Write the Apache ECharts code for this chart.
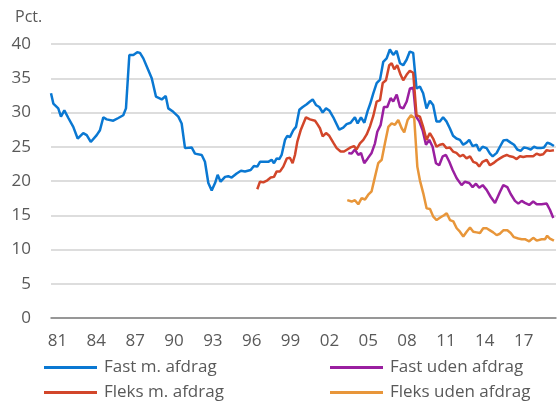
<!DOCTYPE html>
<html>
<head>
<meta charset="utf-8">
<script src="https://cdn.jsdelivr.net/npm/echarts@6/dist/echarts.min.js"></script>
<style>
  html, body { margin: 0; padding: 0; background: #fff; }
  #chart { width: 558px; height: 403px; }
</style>
</head>
<body>
<div id="chart"></div>
<script>
// year labels on the category axis (one per year, every third one shown)
var yearLabels = ["81","82","83","84","85","86","87","88","89","90","91","92","93",
  "94","95","96","97","98","99","00","01","02","03","04","05","06","07","08","09",
  "10","11","12","13","14","15","16","17","18","19"];

// Fast m. afdrag
var fastMYears = [1981.00,1981.18,1981.56,1981.77,1982.03,1982.34,1982.72,1983.06,1983.49,1983.76,
  1984.07,1984.53,1984.78,1985.04,1985.30,1985.81,1986.20,1986.58,1986.79,1987.05,1987.36,1987.66,
  1987.87,1988.13,1988.51,1988.78,1989.11,1989.55,1989.86,1990.06,1990.44,1990.83,1991.09,1991.35,
  1991.86,1992.12,1992.64,1992.89,1993.15,1993.41,1993.67,1993.87,1994.10,1994.44,1994.69,1994.95,
  1995.34,1995.67,1995.98,1996.42,1996.67,1996.93,1997.14,1997.52,1997.78,1998.04,1998.22,1998.43,
  1998.63,1998.81,1999.07,1999.25,1999.45,1999.71,1999.92,2000.18,2000.44,2000.75,2001.00,2001.21,
  2001.46,2001.72,2001.98,2002.24,2002.49,2002.80,2003.26,2003.57,2003.83,2004.14,2004.47,2004.68,
  2004.94,2005.20,2005.45,2005.64,2005.89,2006.15,2006.41,2006.66,2006.92,2007.17,2007.43,2007.69,
  2007.95,2008.20,2008.46,2008.71,2008.97,2009.23,2009.49,2009.74,2010.00,2010.26,2010.51,2010.77,
  2011.03,2011.28,2011.54,2011.80,2012.05,2012.31,2012.58,2012.83,2013.09,2013.30,2013.56,2013.87,
  2014.07,2014.33,2014.64,2014.90,2015.11,2015.42,2015.67,2015.93,2016.19,2016.50,2016.76,2017.01,
  2017.27,2017.53,2017.78,2018.05,2018.30,2018.56,2018.82,2019.07,2019.33,2019.59,2019.84];
var fastMValues = [32.8,31.3,30.6,29.4,30.3,29.2,27.9,26.2,27.0,26.7,
  25.7,26.7,27.4,29.3,29.0,28.8,29.2,29.6,30.6,38.4,38.4,38.8,
  38.7,37.9,36.2,35.0,32.3,31.9,32.4,30.6,30.1,29.4,28.4,24.8,
  24.9,24.0,23.8,22.8,19.7,18.6,19.7,20.9,19.9,20.6,20.7,20.5,
  21.1,21.5,21.4,21.6,22.2,22.1,22.8,22.8,22.8,23.1,22.6,23.3,
  23.2,23.8,26.0,26.6,26.4,27.4,27.9,30.4,30.8,31.2,31.6,31.9,
  31.1,30.8,30.0,30.6,30.3,29.3,27.5,27.8,28.3,28.5,29.3,28.4,
  29.3,28.5,30.2,31.2,32.8,34.3,34.8,37.4,37.9,39.2,38.4,39.0,
  37.2,36.9,37.7,38.9,38.7,33.5,33.8,32.8,30.6,31.7,31.1,28.7,
  28.7,29.3,28.7,27.7,26.6,26.2,26.0,25.3,25.6,26.0,25.1,25.3,
  24.4,25.0,24.8,24.0,23.6,24.1,25.0,25.9,26.0,25.6,25.3,24.6,
  24.4,24.9,24.8,24.6,25.0,24.8,24.8,24.9,25.6,25.4,25.1];

// Fleks m. afdrag
var fleksMYears = [1996.93,1997.14,1997.40,1997.71,1997.97,1998.22,1998.43,1998.69,1998.94,1999.21,
  1999.45,1999.66,1999.84,2000.02,2000.28,2000.69,2001.00,2001.39,2001.57,2001.77,2001.98,2002.24,
  2002.49,2002.80,2003.06,2003.37,2003.63,2003.88,2004.14,2004.40,2004.60,2004.86,2005.12,2005.38,
  2005.64,2005.89,2006.15,2006.41,2006.62,2006.87,2007.12,2007.31,2007.51,2007.74,2008.00,2008.20,
  2008.46,2008.71,2008.97,2009.23,2009.49,2009.74,2010.00,2010.26,2010.51,2010.77,2011.03,2011.28,
  2011.54,2011.80,2012.05,2012.31,2012.58,2012.83,2013.09,2013.36,2013.61,2013.87,2014.07,2014.33,
  2014.64,2014.90,2015.16,2015.42,2015.67,2015.93,2016.19,2016.44,2016.70,2016.96,2017.22,2017.47,
  2017.73,2017.99,2018.24,2018.50,2018.76,2019.01,2019.28,2019.53,2019.84];
var fleksMValues = [18.8,19.9,19.8,20.1,20.5,20.6,21.4,21.4,22.1,23.3,
  23.4,22.6,23.8,25.7,27.4,29.3,29.0,28.8,28.3,27.7,26.5,27.0,
  26.6,25.6,24.8,24.3,24.3,24.6,24.9,25.1,24.6,25.5,26.0,26.8,
  28.0,29.5,31.6,31.8,34.3,34.7,36.9,37.2,36.3,36.9,35.5,34.7,
  35.5,36.1,35.8,29.6,29.4,27.9,26.0,27.0,26.2,25.0,25.3,25.4,
  24.8,24.9,24.3,24.1,23.6,23.8,23.3,23.6,22.8,22.6,22.1,22.8,
  23.1,22.3,22.6,23.0,23.3,23.6,23.8,23.6,23.5,23.2,23.6,23.5,
  23.6,23.6,23.6,24.0,23.8,23.9,24.5,24.4,24.5];

// Fast uden afdrag
var fastUYears = [2003.96,2004.22,2004.47,2004.73,2004.94,2005.19,2005.46,2005.76,2006.02,2006.20,
  2006.46,2006.71,2006.97,2007.23,2007.43,2007.70,2007.95,2008.20,2008.47,2008.72,2008.98,2009.19,
  2009.44,2009.70,2009.96,2010.21,2010.47,2010.73,2010.98,2011.25,2011.50,2011.76,2012.02,2012.33,
  2012.71,2012.97,2013.30,2013.56,2013.82,2014.07,2014.34,2014.64,2014.95,2015.29,2015.67,2015.93,
  2016.24,2016.50,2016.83,2017.09,2017.35,2017.60,2017.93,2018.24,2018.51,2018.89,2019.28,2019.53,
  2019.79];
var fastUValues = [24.1,24.0,24.6,23.8,24.1,22.6,23.3,24.1,25.5,27.2,
  28.2,30.8,30.8,32.1,31.6,32.6,30.8,30.6,31.6,33.5,33.6,29.4,
  28.7,27.4,25.3,26.0,25.0,22.6,22.3,23.6,23.8,22.8,21.6,20.4,
  19.4,19.9,19.7,19.1,19.6,19.0,19.4,18.7,17.7,16.8,18.4,19.4,
  19.1,18.1,17.1,16.7,17.1,16.8,16.5,17.0,16.6,16.6,16.7,15.8,
  14.6];

// Fleks uden afdrag
var fleksUYears = [2003.88,2004.22,2004.47,2004.73,2004.99,2005.25,2005.50,2005.76,2006.02,2006.27,
  2006.54,2006.79,2007.05,2007.31,2007.56,2007.82,2008.08,2008.28,2008.54,2008.80,2009.05,2009.29,
  2009.49,2009.75,2010.01,2010.27,2010.52,2010.78,2011.09,2011.35,2011.56,2011.81,2012.07,2012.33,
  2012.58,2012.84,2013.10,2013.36,2013.61,2013.87,2014.13,2014.38,2014.64,2014.90,2015.15,2015.42,
  2015.67,2015.93,2016.24,2016.50,2016.75,2017.09,2017.35,2017.60,2017.93,2018.24,2018.51,2018.89,
  2019.15,2019.32,2019.53,2019.84];
var fleksUValues = [17.2,17.0,17.2,16.6,17.5,17.3,18.0,18.5,20.6,22.6,
  23.1,25.5,27.9,28.4,28.2,28.9,27.7,27.1,28.9,29.6,29.2,22.1,
  20.1,18.2,16.0,15.9,14.8,14.3,14.7,15.0,15.3,14.3,14.1,13.1,
  12.6,11.9,12.6,13.2,12.6,12.5,12.4,13.1,13.1,12.8,12.5,12.1,
  12.3,12.8,12.8,12.4,11.8,11.6,11.5,11.5,11.2,11.7,11.3,11.5,
  11.5,12.0,11.6,11.3];

function pairs(xs, ys) {
  var res = [];
  for (var i = 0; i < xs.length; i++) {
    res.push([xs[i], ys[i]]);
  }
  return res;
}

var textColor = "#595959";
var font = "'Open Sans', 'Noto Sans', sans-serif";

function lineSeries(name, color, xs, ys) {
  return {
    name: name,
    type: "line",
    xAxisIndex: 1,
    data: pairs(xs, ys),
    symbol: "none",
    lineStyle: { color: color, width: 2.5 },
    itemStyle: { color: color },
    animation: false
  };
}

// one legend box per entry so the 2x2 layout stays put
function legendItem(name, left, top) {
  return {
    data: [name],
    left: left,
    top: top,
    padding: 0,
    itemWidth: 53,
    itemHeight: 3,
    icon: "rect",
    textStyle: { fontSize: 17, color: textColor, padding: [0, 0, 0, 2], fontFamily: font }
  };
}

var myChart = echarts.init(document.getElementById("chart"));
var option = {
  backgroundColor: "#fff",
  textStyle: { fontFamily: font },
  title: {
    text: "Pct.",
    left: 10,
    top: 4,
    textStyle: { fontSize: 16, fontWeight: "normal", color: textColor, fontFamily: font }
  },
  grid: { left: 51, right: 2, top: 44, bottom: 85 },
  legend: [
    legendItem("Fast m. afdrag", 44, 359),
    legendItem("Fleks m. afdrag", 44, 384),
    legendItem("Fast uden afdrag", 330, 359),
    legendItem("Fleks uden afdrag", 330, 384)
  ],
  xAxis: [
    {
      type: "category",
      data: yearLabels,
      boundaryGap: true,
      axisLine: { lineStyle: { color: "#808080", width: 1.5 } },
      axisTick: { interval: 0, inside: true, length: 4, lineStyle: { color: "#808080" } },
      axisLabel: { interval: 2, color: textColor, fontSize: 17, margin: 15 },
      splitLine: { show: false }
    },
    {
      type: "value",
      min: 1981,
      max: 2020,
      show: false
    }
  ],
  yAxis: {
    type: "value",
    min: 0,
    max: 40,
    interval: 5,
    axisLine: { show: false },
    axisTick: { show: false },
    axisLabel: { color: textColor, fontSize: 17, margin: 20 },
    splitLine: { lineStyle: { color: "#d2d2d2", width: 1.5 } }
  },
  series: [
    lineSeries("Fast m. afdrag", "#0a78d2", fastMYears, fastMValues),
    lineSeries("Fast uden afdrag", "#9a1fa0", fastUYears, fastUValues),
    lineSeries("Fleks m. afdrag", "#d2462a", fleksMYears, fleksMValues),
    lineSeries("Fleks uden afdrag", "#e8963a", fleksUYears, fleksUValues)
  ]
};
option && myChart.setOption(option);
</script>
</body>
</html>
